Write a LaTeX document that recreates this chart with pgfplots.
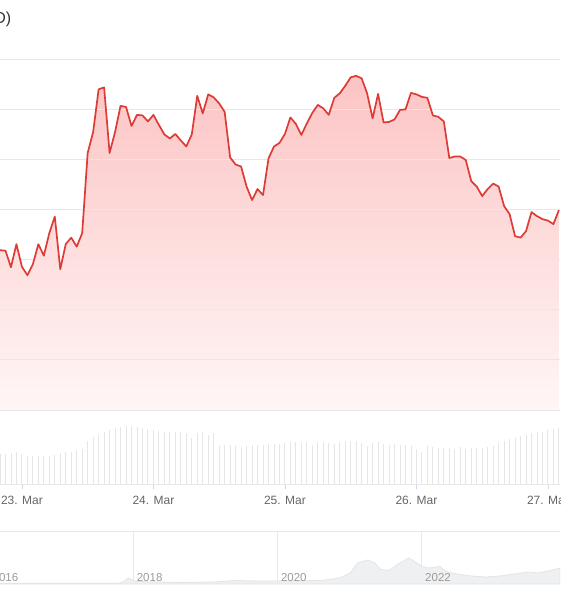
\documentclass[border=0pt]{standalone}
\usepackage{pgfplots}
\usepackage{pgfplotstable}
\pgfplotsset{compat=1.18}
\usepackage{fontspec}
\setmainfont{Liberation Sans}
\definecolor{linered}{RGB}{222,59,54}
\definecolor{gridc}{RGB}{232,232,232}
\definecolor{volc}{RGB}{228,231,234}
\definecolor{lblc}{RGB}{102,102,102}
\definecolor{navlbl}{RGB}{155,155,155}
\definecolor{navfill}{RGB}{238,240,242}
\definecolor{navline}{RGB}{226,229,232}
\definecolor{tickc}{RGB}{204,214,235}
\definecolor{filltop}{RGB}{252,196,196}
\definecolor{fillbot}{RGB}{255,246,246}
\definecolor{titlec}{RGB}{51,51,51}

\pgfplotstableread{
h v
-4 3.19
-3 3.18
-2 2.85
-1 3.31
0 2.86
1 2.69
2 2.91
3 3.31
4 3.08
5 3.53
6 3.86
7 2.81
8 3.31
9 3.44
10 3.26
11 3.53
12 5.13
13 5.55
14 6.40
15 6.44
16 5.13
17 5.55
18 6.07
19 6.05
20 5.67
21 5.89
22 5.88
23 5.76
24 5.89
25 5.69
26 5.50
27 5.42
28 5.51
29 5.38
30 5.26
31 5.50
32 6.27
33 5.92
34 6.30
35 6.24
36 6.12
37 5.95
38 5.04
39 4.90
40 4.86
41 4.46
42 4.19
43 4.41
44 4.29
45 5.02
46 5.26
47 5.33
48 5.51
49 5.84
50 5.71
51 5.49
52 5.72
53 5.93
54 6.09
55 6.02
56 5.89
57 6.23
58 6.32
59 6.47
60 6.64
61 6.67
62 6.62
63 6.32
64 5.82
65 6.31
66 5.74
67 5.75
68 5.80
69 5.99
70 6.00
71 6.33
72 6.30
73 6.25
74 6.23
75 5.88
76 5.85
77 5.76
78 5.03
79 5.06
80 5.06
81 4.99
82 4.57
83 4.46
84 4.27
85 4.41
86 4.52
87 4.46
88 4.07
89 3.91
90 3.47
91 3.44
92 3.57
93 3.95
94 3.87
95 3.81
96 3.78
97 3.71
98 3.99
}\pricetable

\pgfplotstableread{
h vol
-4 29.7
-3 30
-2 31.3
-1 31.7
0 29.7
1 28
2 28
3 28
4 28
5 28
6 28.7
7 30.7
8 31.7
9 32.3
10 34
11 35
12 43.3
13 47.3
14 49
15 52.3
16 54
17 55.7
18 56.7
19 58
20 58.3
21 56.7
22 55.7
23 55.3
24 54
25 53.3
26 52
27 51.7
28 52
29 52
30 51.3
31 46.3
32 51.3
33 52
34 48.7
35 51.3
36 38
37 39.3
38 39.3
39 38
40 37.3
41 38
42 38.7
43 39.3
44 39.3
45 40
46 40
47 40
48 40.7
49 42.3
50 42
51 40.7
52 42
53 39.3
54 42.3
55 42
56 40.7
57 40
58 42
59 42.7
60 43.3
61 43.3
62 40.7
63 38
64 40.7
65 42.3
66 40
67 39.3
68 40
69 39.3
70 38.7
71 38
72 34.7
73 32.3
74 38
75 36.7
76 35.7
77 35.7
78 36.3
79 35.3
80 36.7
81 35.3
82 36.3
83 36.3
84 36.3
85 36.7
86 38.3
87 40.7
88 43.3
89 44.7
90 46.3
91 48
92 49
93 51.3
94 52
95 52.3
96 54
97 54.7
98 55.7
}\voltable

% years since 2016
\pgfplotstableread{
yr nav
0.15 0.7
1.79 0.7
1.86 2
1.93 6
1.98 4
2.06 2.5
2.63 1.5
3.12 2
3.42 3.5
3.72 3
4.02 3
4.61 3.5
4.86 6
5.01 11
5.11 21
5.25 24
5.35 21
5.43 14.5
5.55 13.5
5.65 19
5.75 23
5.82 26
5.90 22.5
6.00 17.5
6.10 16
6.25 17.5
6.34 12.5
6.49 10
6.69 8
6.89 7
7.09 8
7.28 10
7.48 12
7.63 11
7.78 13.5
7.92 16
}\navtable

\begin{document}
\begin{tikzpicture}
\clip (0pt,0pt) rectangle (560pt,600pt);
\fill[white] (0pt,0pt) rectangle (560pt,600pt);

\node[anchor=east, inner sep=0pt, text=titlec, font=\fontsize{16}{19}\selectfont] at (11.5pt,581pt) {(USD)};

% main price panel: gradient area
\begin{axis}[
  at={(0pt,190pt)}, anchor=south west,
  scale only axis, width=560pt, height=350.7pt,
  xmin=-4, xmax=98.2, ymin=0, ymax=7,
  hide axis,
]
\addplot[draw=none, top color=filltop, bottom color=fillbot]
  table[x=h, y=v]{\pricetable} \closedcycle;
\end{axis}

% main price panel: grid and line
\begin{axis}[
  at={(0pt,190pt)}, anchor=south west,
  scale only axis, width=560pt, height=350.7pt,
  xmin=-4, xmax=98.2, ymin=0, ymax=7,
  axis line style={draw=none},
  xtick=\empty,
  ytick={0,1,2,3,4,5,6,7}, yticklabels={},
  ytick style={draw=none},
  ymajorgrids, major grid style={gridc, line width=0.8pt},
]
\addplot[linered, line width=1.7pt, line join=round, mark=none]
  table[x=h, y=v]{\pricetable};
\end{axis}

% volume panel
\begin{axis}[
  at={(0pt,116pt)}, anchor=south west,
  scale only axis, width=560pt, height=74pt,
  xmin=-4, xmax=98.2, ymin=0, ymax=74,
  axis x line*=bottom, axis y line=none,
  x axis line style={gridc, line width=0.8pt, -},
  xtick={0,24,48,72,96},
  xticklabels={23. Mar,24. Mar,25. Mar,26. Mar,27. Mar},
  tick align=outside, major tick length=5pt,
  xtick style={tickc, line width=0.8pt},
  xticklabel style={font=\fontsize{12}{14}\selectfont, text=lblc, yshift=-4pt},
  ytick=\empty,
]
\addplot[ycomb, volc, line width=0.9pt, mark=none] table[x=h, y=vol]{\voltable};
\end{axis}

% navigator: area and grid
\begin{axis}[
  at={(0pt,16pt)}, anchor=south west,
  scale only axis, width=560pt, height=53pt,
  xmin=0.151, xmax=7.918, ymin=0, ymax=53,
  axis line style={draw=none},
  xtick={2,4,6}, xticklabels={},
  xmajorgrids, xtick style={draw=none},
  ytick={53}, yticklabels={}, ytick style={draw=none}, ymajorgrids,
  major grid style={gridc, line width=0.8pt},
  major tick length=0pt,
]
\addplot[fill=navfill, draw=navline, line width=0.8pt, mark=none]
  table[x=yr, y=nav]{\navtable} \closedcycle;
\end{axis}

% navigator: year labels on top of the area
\begin{axis}[
  at={(-10.9pt,16pt)}, anchor=south west,
  scale only axis, width=570.9pt, height=53pt,
  xmin=0, xmax=7.918, ymin=0, ymax=53,
  axis line style={draw=none},
  xtick={0,2,4,6},
  xticklabels={2016,2018,2020,2022},
  xtick style={draw=none}, ytick=\empty,
  xticklabel style={anchor=south west, font=\fontsize{11.5}{13}\selectfont, text=navlbl, xshift=0pt, yshift=-1pt},
  major tick length=0pt,
]
\end{axis}
\end{tikzpicture}
\end{document}
